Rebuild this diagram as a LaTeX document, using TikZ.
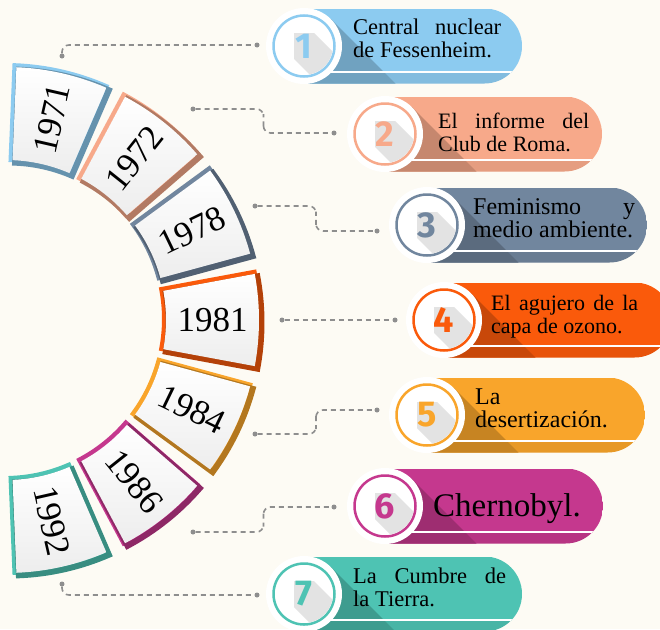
\documentclass[tikz,border=0pt]{standalone}
\usepackage{fontspec}
\setmainfont{Liberation Serif}
\newfontfamily\numfont{Fira Sans}
\usepackage{tikz}
\usetikzlibrary{positioning,calc}
\definecolor{paper}{HTML}{FDFBF4}
\definecolor{linkgrey}{HTML}{8E8E8E}
\definecolor{skyev}{HTML}{8CCBF0}
\definecolor{salmonev}{HTML}{F7A98A}
\definecolor{slateev}{HTML}{71869E}
\definecolor{orangeev}{HTML}{FA5A0B}
\definecolor{amberev}{HTML}{F9A52B}
\definecolor{magentaev}{HTML}{C5388E}
\definecolor{tealev}{HTML}{4EC3B3}
\tolerance=10000
\hbadness=10000

% one card of the half ring, #1 = angle of its middle
\newcommand\cardpath[1]{(#1-10.5:160) -- (#1-10.5:253)
  arc[start angle=#1-10.5, end angle=#1+10.5, radius=253pt]
  -- (#1+10.5:160) arc[start angle=#1+10.5, end angle=#1-10.5, radius=160pt] -- cycle}

\newcommand\yearcard[3]{%
  \draw[#3, line width=6pt, shift={(-1pt,1pt)}] \cardpath{#1};
  \draw[#3!72!black, line width=6pt, shift={(2.5pt,-2.5pt)}] \cardpath{#1};
  \shade[top color=white, bottom color=gray!14] \cardpath{#1};
  \node[yeartext, rotate=#1] (y#2) at (#1:206.5) {#2};
}

% #1,#2 centre of the circle, #3 right end, #4 colour, #5 number
\newcommand\eventpill[5]{%
  \begin{scope}
    \clip (#1,#2-37.5) -- (#3-37.5,#2-37.5) arc[start angle=-90, end angle=90, radius=37.5pt]
      -- (#1,#2+37.5) -- cycle;
    \fill[#4] (#1,#2-37.5) rectangle (#3,#2+37.5);
    \fill[black, opacity=.07] (#1,#2-37.5) rectangle (#3,#2-26);
    \fill[#4!80!black] (#1+26.9,#2+26.9) -- ++(120,-120) -- ++(-53.8,-53.8)
      -- (#1-26.9,#2-26.9) -- cycle;
    \draw[white, line width=1.5pt] (#1,#2-26) -- (#3,#2-26);
  \end{scope}
  \node[disc] (c#5) at (#1,#2) {};
  \draw[#4, line width=2.5pt] (c#5.center) circle (30.5);
  \begin{scope}
    \clip (c#5.center) circle (29);
    \fill[gray!22] (#1-10,#2+13) -- (#1+10,#2+13) -- ++(60,-60) -- ++(0,-26)
      -- ++(-20,0) -- (#1-10,#2-13) -- cycle;
  \end{scope}
  \node[numtext, text=#4] (n#5) at (c#5.center) {#5};
}

\begin{document}
\begin{tikzpicture}[x=1pt, y=1pt,
    dot/.style={circle, fill=linkgrey, inner sep=0pt, minimum size=5pt},
    link/.style={draw=linkgrey, line width=1.6pt, dash pattern=on 5pt off 4pt, rounded corners=7pt},
    yeartext/.style={font=\fontsize{35}{35}\selectfont, inner sep=0pt},
    disc/.style={circle, fill=white, minimum size=76pt, inner sep=0pt},
    numtext/.style={font=\numfont\bfseries\fontsize{36}{36}\selectfont, inner sep=0pt},
    evtext/.style={align=justify, inner sep=0pt}]

  \useasboundingbox (0,0) rectangle (660,-629);
  \fill[paper] (0,0) rectangle (660,-629);

  % the years
  \begin{scope}[shift={(6,-320)}]
    \yearcard{77.14}{1971}{skyev}
    \yearcard{51.43}{1972}{salmonev}
    \yearcard{25.71}{1978}{slateev}
    \yearcard{0}{1981}{orangeev}
    \yearcard{-25.71}{1984}{amberev}
    \yearcard{-51.43}{1986}{magentaev}
    \yearcard{-77.14}{1992}{tealev}
  \end{scope}

  % the events
  \eventpill{304}{-46}{522}{skyev}{1}
  \eventpill{385}{-134}{602}{salmonev}{2}
  \eventpill{427}{-225}{647}{slateev}{3}
  \eventpill{444}{-320}{672}{orangeev}{4}
  \eventpill{427}{-415}{645}{amberev}{5}
  \eventpill{385}{-506}{603}{magentaev}{6}
  \eventpill{304}{-594}{522}{tealev}{7}

  \node[evtext, text width=148pt, font=\fontsize{22.5}{23}\selectfont] (t1) [right=49pt of c1.center, yshift=8pt] {Central nuclear\linebreak de Fessenheim.};
  \node[evtext, text width=151pt, font=\fontsize{22}{23}\selectfont] (t2) [right=53pt of c2.center, yshift=2pt] {El informe del\linebreak Club de Roma.};
  \node[evtext, text width=162pt, font=\fontsize{24}{23}\selectfont] (t3) [right=46pt of c3.center, yshift=6.5pt] {Feminismo y\linebreak medio ambiente.};
  \node[evtext, text width=147pt, font=\fontsize{22}{23}\selectfont] (t4) [right=47pt of c4.center, yshift=3.5pt] {El agujero de la\linebreak capa de ozono.};
  \node[evtext, text width=160pt, font=\fontsize{24}{23}\selectfont] (t5) [right=48pt of c5.center, yshift=6.5pt] {La\\ desertización.};
  \node[evtext, text width=170pt, font=\fontsize{33}{36}\selectfont] (t6) [right=48pt of c6.center, yshift=-3pt] {Chernobyl.};
  \node[evtext, text width=153pt, font=\fontsize{22.5}{23}\selectfont] (t7) [right=49pt of c7.center, yshift=7pt] {La Cumbre de\linebreak la Tierra.};

  % dotted leaders
  \node[dot] (a1) at (62,-56) {};
  \node[dot] (b1) at (257,-45) {};
  \node[dot] (a2) at (193,-109) {};
  \node[dot] (b2) at (334,-133) {};
  \node[dot] (a3) at (255,-206) {};
  \node[dot] (b3) at (377,-231) {};
  \node[dot] (a4) at (282,-320) {};
  \node[dot] (b4) at (395,-320) {};
  \node[dot] (a5) at (255,-434) {};
  \node[dot] (b5) at (377,-410) {};
  \node[dot] (a6) at (193,-532) {};
  \node[dot] (b6) at (334,-507) {};
  \node[dot] (a7) at (62,-584) {};
  \node[dot] (b7) at (257,-595) {};

  \draw[link] (a1) |- (b1);
  \draw[link] (a2) -| ($(a2)!.5!(b2)$) |- (b2);
  \draw[link] (a3) -| ($(a3)!.5!(b3)$) |- (b3);
  \draw[link] (a4) -- (b4);
  \draw[link] (a5) -| ($(a5)!.5!(b5)$) |- (b5);
  \draw[link] (a6) -| ($(a6)!.5!(b6)$) |- (b6);
  \draw[link] (a7) |- (b7);
\end{tikzpicture}
\end{document}
